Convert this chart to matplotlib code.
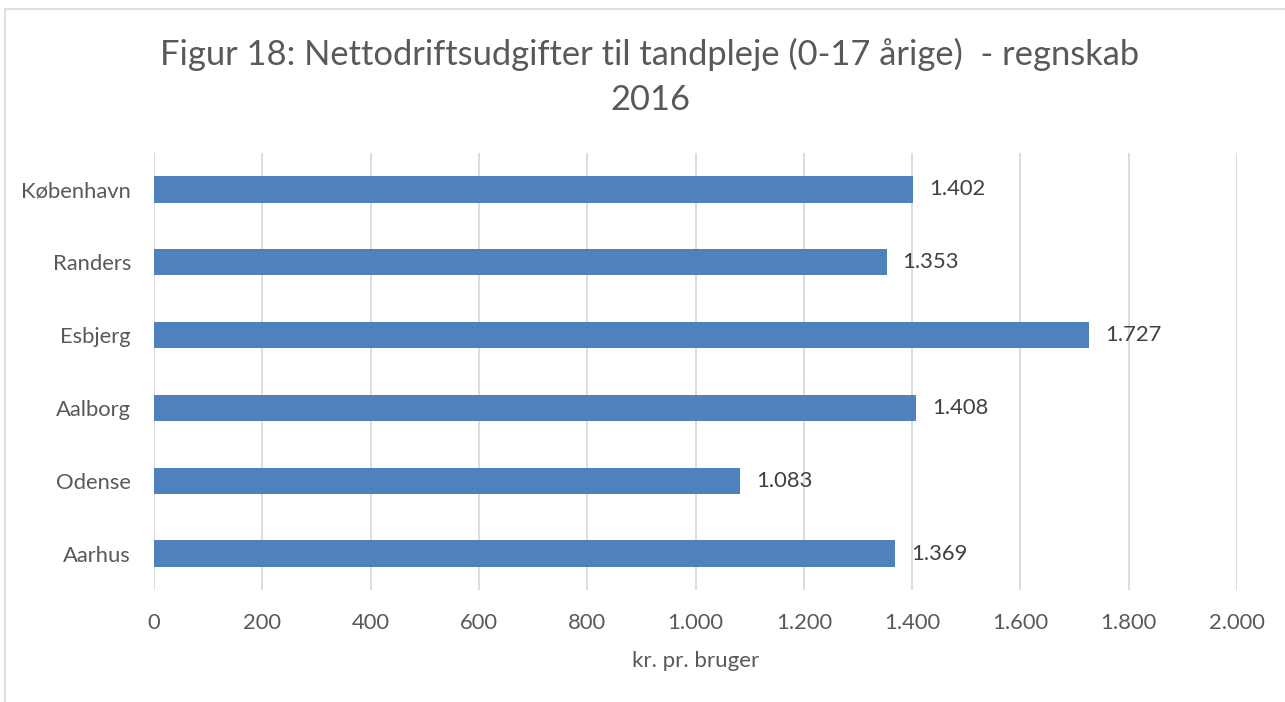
#!/usr/bin/env python3

import matplotlib
matplotlib.use("Agg")
import matplotlib.pyplot as plt
from matplotlib.patches import Rectangle
from matplotlib.ticker import FuncFormatter

# data (top to bottom as shown)
cities = ['København', 'Randers', 'Esbjerg', 'Aalborg', 'Odense', 'Aarhus']
values = [1402, 1353, 1727, 1408, 1083, 1369]
x_ticks = [0, 200, 400, 600, 800, 1000, 1200, 1400, 1600, 1800, 2000]

TEXT = '#595959'
BAR = '#4F81BD'
GRID = '#D9D9D9'


def dk(v):
    """Danish thousands separator"""
    return f"{int(v):,}".replace(',', '.')


plt.rcParams['font.family'] = ['Lato', 'DejaVu Sans']

W, H = 1285, 702
fig = plt.figure(figsize=(W / 100, H / 100), dpi=100)

# plot area in pixels: x 154..1237, y 153..590
left, right, top, bottom = 154, 1237, 153, 590
ax = fig.add_axes([left / W, 1 - bottom / H, (right - left) / W, (bottom - top) / H])

ypos = list(range(len(cities)))[::-1]
ax.barh(ypos, values, height=0.36, color=BAR, zorder=3)

for y, v in zip(ypos, values):
    ax.annotate(dk(v), (v, y), xytext=(11.5, 0), textcoords='offset points',
                ha='left', va='center', fontsize=15.8, color='#404040')

ax.set_xlim(0, 2000)
ax.set_ylim(-0.5, len(cities) - 0.5)
ax.set_xticks(x_ticks)
ax.xaxis.set_major_formatter(FuncFormatter(lambda v, p: dk(v)))
ax.set_yticks(ypos)
ax.set_yticklabels(cities)

ax.grid(True, axis='x', color=GRID, linewidth=1.3, zorder=0)
for s in ax.spines.values():
    s.set_visible(False)
ax.tick_params(axis='both', length=0, labelsize=15.8, labelcolor=TEXT)
ax.tick_params(axis='x', pad=16.5)
ax.tick_params(axis='y', pad=16.5)

ax.set_xlabel('kr. pr. bruger', fontsize=16, color=TEXT, labelpad=13)

fig.text(650 / W, 1 - 77 / H,
         'Figur 18: Nettodriftsudgifter til tandpleje (0-17 årige)  - regnskab\n2016',
         ha='center', va='center', fontsize=24.8, color=TEXT, linespacing=1.5)

# chart border
fig.patches.append(Rectangle((5 / W, -0.1), 1.2, 1 - 9 / H + 0.1,
                             transform=fig.transFigure, fill=False,
                             edgecolor=GRID, linewidth=1.2))

fig.savefig('out.png', dpi=100, facecolor='white')
